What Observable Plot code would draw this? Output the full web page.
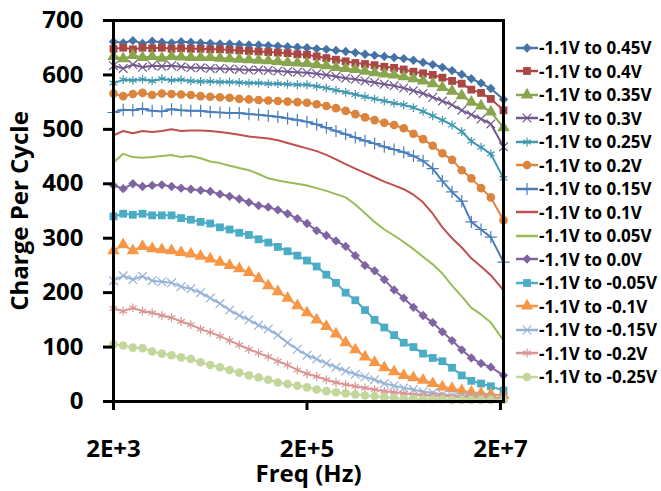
<!DOCTYPE html>
<html>
<head>
<meta charset="utf-8">
<script src="https://cdn.jsdelivr.net/npm/d3@7"></script>
<script src="https://cdn.jsdelivr.net/npm/@observablehq/plot@0.6"></script>
<style>
  html, body { margin: 0; padding: 0; background: #fff; }
  #wrap { position: relative; width: 661px; height: 491px; font-family: "Open Sans", sans-serif; }
  #legend { position: absolute; left: 516px; top: 36px; }
  .row { display: flex; align-items: center; height: 23.5px; font-size: 17px; font-weight: bold; color: #000; white-space: nowrap; }
  .row svg { display: block; margin-right: 1px; }
</style>
</head>
<body>
<div id="wrap"><div id="legend"></div></div>
<script>
// Frequencies (Hz)
const freqs = [2000, 2520, 3170, 3990, 5020, 6320, 7960, 10000, 12600, 15900,
  20000, 25200, 31700, 39900, 50200, 63200, 79600, 100000, 126000, 159000,
  200000, 252000, 317000, 399000, 502000, 632000, 796000, 1000000, 1260000, 1590000,
  2000000, 2520000, 3170000, 3990000, 5020000, 6320000, 7960000, 10000000, 12600000, 15900000,
  21500000];

// Charge per cycle for each voltage swing
const v045 = [661,659,663,658,662,660,659,661,660,659, 658,657,657,656,655,655,654,653,652,651, 650,648,647,645,643,641,638,636,634,632, 630,627,623,619,614,608,601,593,585,575, 555];
const v040 = [648,650,647,650,649,650,648,649,648,648, 647,647,646,645,644,643,642,641,640,638, 637,634,631,628,625,622,620,618,615,613, 610,606,603,600,595,589,584,573,567,556, 535];
const v035 = [634,630,636,632,634,631,634,633,632,632, 632,631,630,629,628,627,626,625,623,622, 621,619,617,614,612,610,607,604,602,600, 597,593,589,584,577,570,562,550,543,532, 503];
const v030 = [617,612,619,614,617,616,617,615,613,613, 612,612,611,610,609,609,608,607,606,605, 604,602,600,597,594,592,589,586,583,580, 576,571,566,559,552,545,535,527,519,510, 468];
const v025 = [585,591,590,592,589,593,590,591,589,588, 588,587,587,586,585,585,584,584,583,582, 582,579,576,572,568,564,560,556,552,548, 545,540,533,525,517,508,496,478,467,455, 410];
const v020 = [566,561,565,567,563,566,565,564,563,561, 560,559,558,556,555,554,553,552,551,550, 549,546,543,539,534,528,522,517,512,508, 502,492,482,470,456,444,425,410,392,375, 333];
const v015 = [531,536,535,538,534,533,537,535,534,534, 532,531,530,530,528,527,525,523,520,517, 514,509,503,497,491,485,479,474,468,463, 458,451,442,428,405,385,368,330,316,302, 256];
const v010 = [489,497,493,497,495,497,500,497,498,498, 497,495,493,490,487,485,483,480,475,470, 465,460,453,445,436,428,420,412,404,397, 390,380,366,345,320,300,283,263,248,232, 204];
const v005 = [439,455,449,448,449,451,453,449,451,447, 441,438,433,429,425,418,410,406,403,400, 397,392,387,381,375,362,346,330,316,305, 293,280,266,252,235,213,193,172,160,145, 112];
const v000 = [397,391,400,395,397,398,395,392,390,388, 386,381,377,372,366,360,357,352,345,336, 327,314,305,295,285,268,250,240,224,205, 190,173,158,145,128,112,95,80,70,63, 48];
const vm005 = [340,345,343,345,342,342,342,337,334,330, 327,320,316,310,306,298,292,284,276,268, 259,248,233,218,200,186,168,150,136,122, 108,100,88,80,74,62,48,38,33,28, 20];
const vm010 = [277,288,277,285,281,279,277,274,271,267, 262,256,250,244,237,226,213,202,190,176, 163,150,138,124,108,95,82,72,62,55, 48,44,39,33,27,24,20,17,15,13, 11];
const vm015 = [222,231,224,230,222,220,218,211,207,200, 190,180,168,158,150,140,133,122,108,96, 85,78,70,63,56,50,45,40,33,29, 25,22,18,16,13,11,10,9,8,7, 7];
const vm020 = [171,166,172,166,163,158,154,147,141,133, 127,120,112,104,96,89,82,74,67,58, 51,46,40,35,31,28,25,22,19,17, 15,13,12,11,10,9,8,8,7,7, 6];
const vm025 = [105,103,99,98,92,88,85,81,78,72, 67,63,58,53,48,44,40,35,32,29, 26,22,19,17,15,13,11,10,8,6, 5,5,4,4,4,3,3,3,3,3, 3];

const seriesNames = ["-1.1V to 0.45V","-1.1V to 0.4V","-1.1V to 0.35V","-1.1V to 0.3V","-1.1V to 0.25V",
  "-1.1V to 0.2V","-1.1V to 0.15V","-1.1V to 0.1V","-1.1V to 0.05V","-1.1V to 0.0V",
  "-1.1V to -0.05V","-1.1V to -0.1V","-1.1V to -0.15V","-1.1V to -0.2V","-1.1V to -0.25V"];
const seriesValues = [v045, v040, v035, v030, v025, v020, v015, v010, v005, v000, vm005, vm010, vm015, vm020, vm025];
const colors = ["#4572A7","#AA4643","#89A54E","#71588F","#4198AF","#DB843D",
  "#4A7EBB","#C0504D","#9BBB59","#8064A2","#4BACC6","#F79646",
  "#95B3D7","#D99694","#C3D69B"];
const symbols = ["diamond2","square","triangle","times","asterisk","circle","plus",null,null,
  "diamond2","square","triangle","times","asterisk","circle"];
const filled = {diamond2: true, square: true, triangle: true, circle: true};
const radii = {diamond2: 4.2, square: 4.4, triangle: 4.6, times: 4, asterisk: 4.2, circle: 4.3, plus: 4};

const xTicks = [2000, 200000, 20000000];
const xTickLabels = ["2E+3", "2E+5", "2E+7"];
const yTicks = [0, 100, 200, 300, 400, 500, 600, 700];

const marks = [];
seriesValues.forEach((vals, k) => {
  const rows = freqs.map((f, i) => ({f, v: vals[i]}));
  marks.push(Plot.line(rows, {x: "f", y: "v", stroke: colors[k], strokeWidth: 2}));
  const s = symbols[k];
  if (s) {
    marks.push(Plot.dot(rows, filled[s]
      ? {x: "f", y: "v", symbol: s, r: radii[s], fill: colors[k], stroke: "none"}
      : {x: "f", y: "v", symbol: s, r: radii[s], stroke: colors[k], strokeWidth: 1.2, fill: "none"}));
  }
});

const chart = Plot.plot({
  width: 661, height: 491,
  marginLeft: 113, marginRight: 158, marginTop: 20, marginBottom: 90,
  style: {fontFamily: "Open Sans", fontWeight: "bold", color: "#000", background: "#fff", overflow: "visible"},
  x: {type: "log", domain: [2000, 21500000]},
  y: {domain: [0, 700]},
  marks: [
    ...marks,
    Plot.frame({stroke: "#000", strokeWidth: 3}),
    Plot.axisY({ticks: yTicks, tickSize: 10, tickPadding: 20, fontSize: 24, strokeWidth: 3,
      label: "Charge Per Cycle", labelAnchor: "center", labelArrow: "none", labelOffset: 103}),
    Plot.axisX({ticks: xTicks, tickFormat: (d) => xTickLabels[xTicks.indexOf(d)], tickSize: 9, tickPadding: 29,
      fontSize: 24, strokeWidth: 3, label: "Freq (Hz)", labelAnchor: "center", labelArrow: "none", labelOffset: 80})
  ]
});
const wrap = document.getElementById("wrap");
wrap.insertBefore(chart, wrap.firstChild);

// Legend
const legend = document.getElementById("legend");
const d3types = {diamond2: d3.symbolDiamond2, square: d3.symbolSquare, triangle: d3.symbolTriangle,
  times: d3.symbolTimes, asterisk: d3.symbolAsterisk, circle: d3.symbolCircle, plus: d3.symbolPlus};
seriesNames.forEach((name, k) => {
  const row = document.createElement("div");
  row.className = "row";
  const s = symbols[k];
  let sym = "";
  if (s) {
    const r = radii[s];
    const p = d3.symbol(d3types[s], Math.PI * r * r)();
    sym = filled[s]
      ? `<path d="${p}" transform="translate(11,8)" fill="${colors[k]}"/>`
      : `<path d="${p}" transform="translate(11,8)" fill="none" stroke="${colors[k]}" stroke-width="1.2"/>`;
  }
  row.innerHTML = `<svg width="22" height="16"><line x1="0" x2="22" y1="8" y2="8" stroke="${colors[k]}" stroke-width="2.5"/>${sym}</svg><span></span>`;
  row.querySelector("span").textContent = name;
  legend.appendChild(row);
});
</script>
</body>
</html>
